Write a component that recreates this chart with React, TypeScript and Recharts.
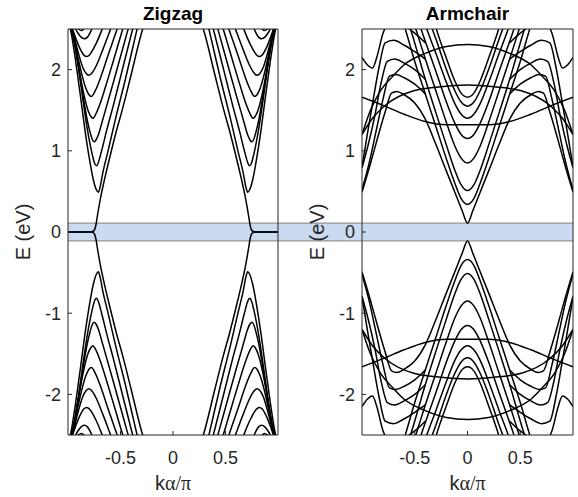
import { LineChart, Line, XAxis, YAxis, ReferenceArea } from "recharts";

type Pt = [number, number];

// Right half of the upper bands only (k >= 0, E >= 0).
// The plots are symmetric in k and in E, so the other three quarters are mirrored.

// zigzag: the band that runs into the flat edge state
const zigzagEdge: Pt[] = [
  [0.26, 2.62], [0.3, 2.45], [0.4, 1.93], [0.48, 1.52], [0.54, 1.24], [0.6, 0.93],
  [0.65, 0.66], [0.69, 0.42], [0.72, 0.2], [0.735, 0.08], [0.75, 0.02], [0.78, 0], [1, 0],
];

// zigzag: the nested valleys
const zigzagBands: Pt[][] = [
  [[0.32, 2.62], [0.36, 2.4], [0.45, 1.9], [0.55, 1.38], [0.62, 0.99], [0.67, 0.72], [0.695, 0.55], [0.711, 0.49], [0.73, 0.52], [0.76, 0.65], [0.8, 0.93], [0.84, 1.27], [0.88, 1.66], [0.92, 2.04], [0.96, 2.38], [1, 2.65]],
  [[0.36, 2.62], [0.4, 2.42], [0.49, 1.96], [0.57, 1.55], [0.63, 1.26], [0.68, 1.0], [0.71, 0.86], [0.728, 0.815], [0.745, 0.84], [0.77, 0.96], [0.8, 1.15], [0.82, 1.3], [0.86, 1.65], [0.9, 2.02], [0.94, 2.35], [0.98, 2.58], [1, 2.65]],
  [[0.4, 2.62], [0.44, 2.44], [0.53, 2.02], [0.61, 1.65], [0.67, 1.38], [0.71, 1.2], [0.735, 1.13], [0.75, 1.11], [0.765, 1.13], [0.79, 1.23], [0.82, 1.4], [0.86, 1.7], [0.9, 2.04], [0.94, 2.35], [0.98, 2.58], [1, 2.65]],
  [[0.45, 2.62], [0.49, 2.45], [0.57, 2.1], [0.64, 1.8], [0.7, 1.56], [0.74, 1.44], [0.762, 1.4], [0.78, 1.42], [0.81, 1.5], [0.85, 1.7], [0.89, 1.97], [0.93, 2.27], [0.97, 2.52], [1, 2.65]],
  [[0.5, 2.62], [0.54, 2.47], [0.62, 2.17], [0.69, 1.9], [0.74, 1.74], [0.777, 1.67], [0.8, 1.69], [0.83, 1.77], [0.87, 1.95], [0.91, 2.18], [0.95, 2.43], [1, 2.65]],
  [[0.56, 2.62], [0.6, 2.48], [0.67, 2.24], [0.73, 2.05], [0.77, 1.96], [0.8, 1.93], [0.825, 1.95], [0.86, 2.03], [0.9, 2.2], [0.94, 2.4], [0.97, 2.55], [1, 2.65]],
  [[0.64, 2.62], [0.68, 2.48], [0.74, 2.3], [0.79, 2.19], [0.82, 2.16], [0.85, 2.18], [0.89, 2.27], [0.93, 2.4], [0.97, 2.55], [1, 2.65]],
  [[0.74, 2.62], [0.78, 2.48], [0.815, 2.4], [0.845, 2.38], [0.875, 2.4], [0.91, 2.46], [0.95, 2.56], [1, 2.65]],
  [[0.81, 2.6], [0.85, 2.5], [0.87, 2.48], [0.9, 2.5], [0.94, 2.57], [1, 2.65]],
];

// armchair: bands with their bottom at k = 0 (the lowest one turns over and drops to the edge)
const armchairCentral: Pt[][] = [
  [[0, 0.11], [0.05, 0.26], [0.12, 0.49], [0.2, 0.75], [0.3, 1.08], [0.4, 1.39], [0.5, 1.59], [0.6, 1.69], [0.67, 1.73], [0.72, 1.71], [0.78, 1.48], [0.85, 1.17], [0.92, 0.84], [1, 0.49]],
  [[0, 0.34], [0.06, 0.41], [0.12, 0.6], [0.2, 0.9], [0.3, 1.3], [0.4, 1.7], [0.5, 2.1], [0.59, 2.5], [0.63, 2.66]],
  [[0, 0.51], [0.06, 0.58], [0.12, 0.76], [0.2, 1.07], [0.3, 1.47], [0.4, 1.88], [0.54, 2.5], [0.58, 2.66]],
  [[0, 0.85], [0.06, 0.91], [0.12, 1.06], [0.2, 1.35], [0.3, 1.74], [0.4, 2.13], [0.49, 2.5], [0.53, 2.66]],
  [[0, 1.15], [0.06, 1.2], [0.12, 1.34], [0.2, 1.6], [0.3, 1.98], [0.44, 2.5], [0.48, 2.66]],
  [[0, 1.4], [0.06, 1.45], [0.12, 1.58], [0.2, 1.84], [0.3, 2.2], [0.4, 2.55], [0.44, 2.7]],
  [[0, 1.55], [0.06, 1.6], [0.12, 1.74], [0.2, 2.0], [0.3, 2.38], [0.35, 2.56], [0.38, 2.68]],
  [[0, 1.66], [0.06, 1.71], [0.12, 1.86], [0.2, 2.14], [0.3, 2.52], [0.33, 2.66]],
];

// armchair: the peaks near |k| = 0.75 that fall steeply to the zone edge
const armchairPeaks: Pt[][] = [
  [[0.4, 1.7], [0.5, 1.82], [0.6, 1.9], [0.68, 1.94], [0.74, 1.92], [0.8, 1.64], [0.87, 1.22], [0.93, 0.86], [1, 0.52]],
  [[0.4, 1.88], [0.5, 2.0], [0.6, 2.08], [0.69, 2.13], [0.76, 2.1], [0.82, 1.83], [0.88, 1.42], [0.94, 1.08], [1, 0.79]],
  [[0.4, 2.13], [0.5, 2.22], [0.6, 2.3], [0.7, 2.36], [0.78, 2.33], [0.84, 2.02], [0.9, 1.58], [0.95, 1.2], [1, 0.8]],
  [[0.4, 2.33], [0.5, 2.45], [0.62, 2.55], [0.74, 2.58], [0.8, 2.45], [0.86, 2.15], [0.9, 2.02], [0.95, 2.06], [1, 2.15]],
];

// armchair: the slow, wide arcs
const armchairWide: Pt[][] = [
  [[0, 1.32], [0.2, 1.32], [0.4, 1.36], [0.6, 1.45], [0.8, 1.56], [1, 1.66]],
  [[0, 1.81], [0.25, 1.79], [0.51, 1.74], [0.77, 1.57], [0.9, 1.4], [1, 1.2]],
  [[0, 2.31], [0.2, 2.285], [0.4, 2.2], [0.6, 2.06], [0.7, 1.93], [0.83, 1.73], [0.92, 1.5], [1, 1.2]],
];

const kTicks = [-0.5, 0, 0.5];
const eTicks = [-2, -1, 0, 1, 2];
const kRange: [number, number] = [-1, 1];
const eRange: [number, number] = [-2.5, 2.5];
const gapWindow = [-0.11, 0.11];

const flipE = (pts: Pt[]): Pt[] => pts.map(([k, e]) => [k, -e] as Pt);
const flipK = (pts: Pt[]): Pt[] => pts.map(([k, e]) => [-k, e] as Pt).reverse();
// a band symmetric about k = 0, drawn as one curve through the middle
const across = (pts: Pt[]): Pt[] => [...flipK(pts.slice(1)), ...pts];
const rows = (pts: Pt[]) => pts.map(([k, e]) => ({ k, E: e }));
const fourWays = (b: Pt[]): Pt[][] => [b, flipK(b), flipE(b), flipE(flipK(b))];

const zigzagSeries: Pt[][] = [zigzagEdge, ...zigzagBands].flatMap(fourWays);
const armchairSeries: Pt[][] = [
  ...[...armchairCentral, ...armchairWide].flatMap((b) => {
    const full = across(b);
    return [full, flipE(full)];
  }),
  ...armchairPeaks.flatMap(fourWays),
];

const W = 289;
const H = 497;
const AXIS = "#262626";
const FONT = "'Liberation Sans', Arial, Helvetica, sans-serif";

function Band(props: any) {
  const { x, y, width, height, side } = props;
  // the band carries on through the gap between the two panels
  const x0 = side === "right" ? 0 : x;
  const x1 = side === "left" ? W : x + width;
  return (
    <g>
      <rect x={x0} y={y} width={x1 - x0} height={height} fill="#4f86d0" fillOpacity={0.3} />
      <line x1={x0} x2={x1} y1={y} y2={y} stroke="#808080" strokeWidth={1} />
      <line x1={x0} x2={x1} y1={y + height} y2={y + height} stroke="#808080" strokeWidth={1} />
    </g>
  );
}

function Panel({ title, series, yAxisW, rightW, side }: {
  title: string; series: Pt[][]; yAxisW: number; rightW: number; side: "left" | "right";
}) {
  return (
    <LineChart width={W} height={H} margin={{ top: 0, right: 0, bottom: 0, left: 0 }}>
      <XAxis
        dataKey="k" type="number" domain={kRange} ticks={kTicks} allowDataOverflow
        height={62} tickSize={-4} tickMargin={20} stroke={AXIS}
        tick={{ fontSize: 18, fill: AXIS }}
        label={(p: any) => (
          <text x={p.viewBox.x + p.viewBox.width / 2} y={p.viewBox.y + 55} textAnchor="middle" fontSize={20} fill={AXIS}>
            k<tspan fontFamily="'Liberation Serif', 'DejaVu Serif', serif">α/π</tspan>
          </text>
        )}
      />
      <XAxis
        xAxisId="top" orientation="top" type="number" domain={kRange} ticks={kTicks} allowDataOverflow
        height={29} tickSize={-4} tick={false} stroke={AXIS}
        label={(p: any) => (
          <text x={p.viewBox.x + p.viewBox.width / 2} y={p.viewBox.y + 20} textAnchor="middle" fontSize={19} fontWeight="bold" fill="#000">
            {title}
          </text>
        )}
      />
      <YAxis
        type="number" domain={eRange} ticks={eTicks} allowDataOverflow
        width={yAxisW} tickSize={-4} tickMargin={11} stroke={AXIS}
        tick={{ fontSize: 18, fill: AXIS }}
        label={(p: any) => {
          const cx = p.viewBox.x + p.viewBox.width - 45;
          const cy = p.viewBox.y + p.viewBox.height / 2;
          return (
            <text x={cx} y={cy} transform={`rotate(-90 ${cx} ${cy})`} textAnchor="middle" dominantBaseline="central" fontSize={20} fill={AXIS}>
              E (eV)
            </text>
          );
        }}
      />
      <YAxis
        yAxisId="r" orientation="right" type="number" domain={eRange} ticks={eTicks} allowDataOverflow
        width={rightW} tickSize={-4} tick={false} stroke={AXIS}
      />
      <ReferenceArea
        x1={kRange[0]} x2={kRange[1]} y1={gapWindow[0]} y2={gapWindow[1]}
        ifOverflow="visible" shape={(p: any) => <Band {...p} side={side} />}
      />
      {series.map((s, i) => (
        <Line
          key={i} data={rows(s)} dataKey="E" type="monotone" stroke="#000" strokeWidth={1.5}
          dot={false} activeDot={false} isAnimationActive={false}
        />
      ))}
    </LineChart>
  );
}

export default function App() {
  return (
    <div style={{ position: "absolute", left: 0, top: 0, width: 578, height: 497, display: "flex", fontFamily: FONT, background: "#fff" }}>
      <Panel title="Zigzag" series={zigzagSeries} yAxisW={68} rightW={11} side="left" />
      <Panel title="Armchair" series={armchairSeries} yAxisW={73} rightW={5} side="right" />
    </div>
  );
}
